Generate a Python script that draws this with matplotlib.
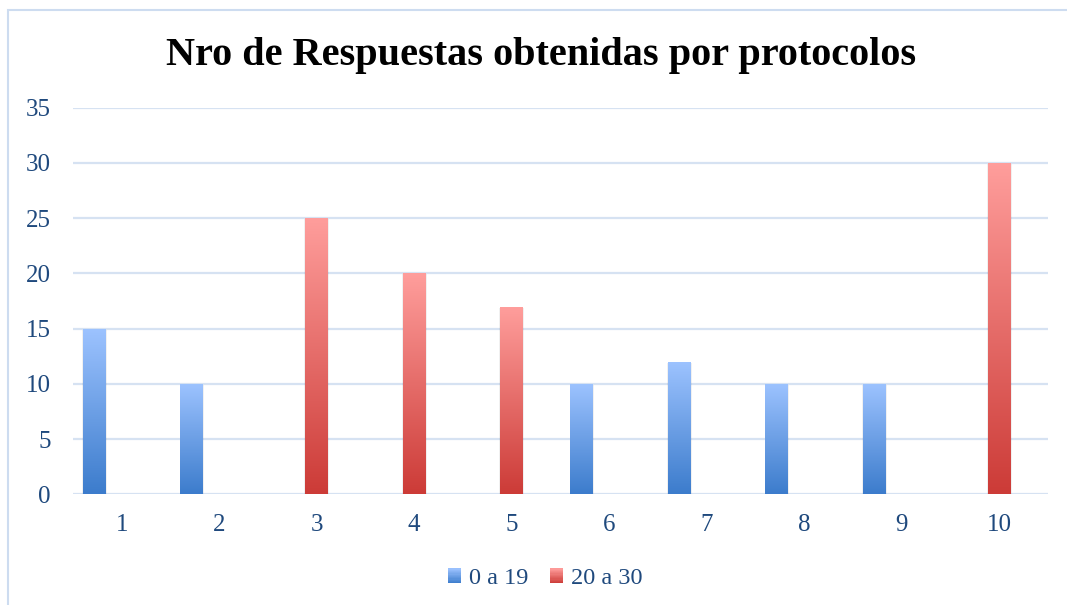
import numpy as np
import matplotlib
matplotlib.use("Agg")
import matplotlib.pyplot as plt
from matplotlib.patches import Rectangle
from matplotlib.colors import LinearSegmentedColormap
from matplotlib.legend_handler import HandlerBase

categories = ["1", "2", "3", "4", "5", "6", "7", "8", "9", "10"]
serie_a = [15, 10, 0, 0, 0, 10, 12, 10, 10, 0]      # 0 a 19
serie_b = [0, 0, 25, 20, 17, 0, 0, 0, 0, 30]        # 20 a 30
labels = ["0 a 19", "20 a 30"]
title = "Nro de Respuestas obtenidas por protocolos"

blue_top, blue_bot = "#9DC3FF", "#3C7CCC"
red_top, red_bot = "#FF9E9C", "#CC3B37"
text_col = "#1F497D"
grid_col = "#D6E2F2"

fig = plt.figure(figsize=(10.67, 6.05), dpi=100)
W, H = 1067, 605
ax = fig.add_axes([73 / W, 1 - 494.3 / H, (1048 - 73) / W, (494.3 - 107.7) / H])

# chart frame (right and bottom edges lie outside the picture)
fig.patches.append(Rectangle((7.5 / W, -0.05), 1.2, 1 - 10 / H + 0.05,
                             transform=fig.transFigure, fill=False,
                             edgecolor="#CDDCF0", linewidth=1.5))

x = np.arange(len(categories))
width = 0.235
offsets = [-0.28, 0.0]
cmaps = [LinearSegmentedColormap.from_list("gb", [blue_bot, blue_top]),
         LinearSegmentedColormap.from_list("gr", [red_bot, red_top])]

def grad_bars(vals, off, cmap):
    bars = ax.bar(x + off, vals, width, color="none", edgecolor="none", zorder=3)
    grad = np.linspace(0, 1, 256).reshape(-1, 1)
    for b in bars:
        h = b.get_height()
        if h <= 0:
            continue
        x0 = b.get_x()
        ax.add_patch(Rectangle((x0 - 0.01, -0.2), b.get_width() + 0.02, h + 0.1,
                               facecolor="#000000", alpha=0.06, edgecolor="none", zorder=2))
        im = ax.imshow(grad, cmap=cmap, origin="lower", aspect="auto",
                       extent=(x0, x0 + b.get_width(), 0, h), zorder=3)
        im.set_clip_path(b)
    return bars

grad_bars(serie_a, offsets[0], cmaps[0])
grad_bars(serie_b, offsets[1], cmaps[1])

ax.set_xlim(-0.5, len(categories) - 0.5)
ax.set_ylim(0, 35)
ax.set_yticks(np.arange(0, 36, 5))
ax.set_xticks(x)
ax.set_xticklabels(categories)
ax.yaxis.grid(True, color=grid_col, linewidth=1.6)
ax.set_axisbelow(True)
for s in ax.spines.values():
    s.set_visible(False)
ax.tick_params(length=0, colors=text_col, labelsize=18)
ax.tick_params(axis="x", pad=14)
ax.tick_params(axis="y", pad=16)
for lab in ax.get_xticklabels() + ax.get_yticklabels():
    lab.set_fontfamily("Liberation Serif")
    lab.set_color(text_col)

fig.text(541 / W, 1 - 56 / H, title, ha="center", va="center",
         fontsize=29, fontweight="bold", family="Liberation Serif", color="black")


class GradHandler(HandlerBase):
    def __init__(self, cmap):
        super().__init__()
        self.cmap = cmap

    def create_artists(self, legend, orig_handle, xdescent, ydescent, width, height,
                       fontsize, trans):
        n = 12
        arts = []
        for i in range(n):
            r = Rectangle((-xdescent, -ydescent + height * i / n), width, height / n + 0.3,
                          facecolor=self.cmap((i + 0.5) / n), edgecolor="none",
                          transform=trans)
            arts.append(r)
        return arts


handles = [Rectangle((0, 0), 1, 1), Rectangle((0, 0), 1, 1)]
leg = fig.legend(handles, labels, loc="center", bbox_to_anchor=(545 / W, 1 - 579 / H),
                 ncol=2, frameon=False, prop={"family": "Liberation Serif", "size": 17.5},
                 handlelength=0.55, handleheight=0.55, handletextpad=0.3, columnspacing=0.9,
                 handler_map={handles[0]: GradHandler(cmaps[0]),
                              handles[1]: GradHandler(cmaps[1])})
for t in leg.get_texts():
    t.set_color(text_col)

fig.savefig("out.png", dpi=100)
